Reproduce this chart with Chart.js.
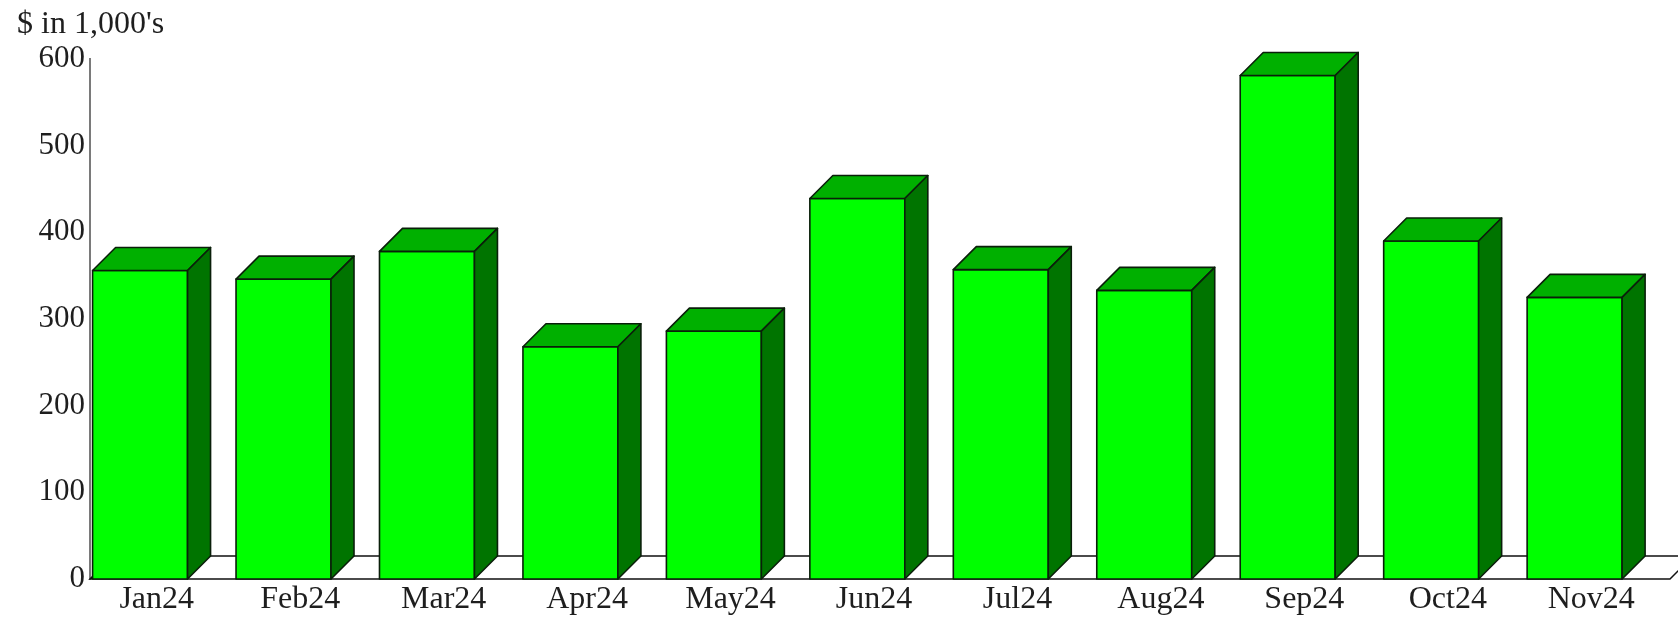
<!DOCTYPE html>
<html>
<head>
<meta charset="utf-8">
<script src="https://cdn.jsdelivr.net/npm/chart.js@4.4.1/dist/chart.umd.min.js"></script>
<style>
  html, body { margin: 0; padding: 0; background: #fff; }
  #wrap { width: 1678px; height: 618px; }
</style>
</head>
<body>
<div id="wrap"><canvas id="salesChart"></canvas></div>
<script>
const months = ["Jan24", "Feb24", "Mar24", "Apr24", "May24", "Jun24", "Jul24", "Aug24", "Sep24", "Oct24", "Nov24"];
const sales = [356, 346, 378, 268, 286, 439, 357, 333, 581, 390, 325];
const yTicks = [0, 100, 200, 300, 400, 500, 600];

const colors = {
  front: "#00ff00",
  top: "#00b000",
  side: "#007400",
  edge: "#0a1f0a",
  axis: "#7a7a7a",
  text: "#1e1e1e"
};

const serif = '"Liberation Serif", "Times New Roman", serif';
const DEPTH = 23;

function poly(ctx, pts, fill) {
  ctx.beginPath();
  ctx.moveTo(pts[0][0], pts[0][1]);
  for (let i = 1; i < pts.length; i++) ctx.lineTo(pts[i][0], pts[i][1]);
  ctx.closePath();
  ctx.fillStyle = fill;
  ctx.fill();
  ctx.stroke();
}

// floor slab behind the bars plus the extruded boxes on top of it
const boxes3d = {
  id: "boxes3d",
  beforeDatasetsDraw(chart) {
    const { ctx, chartArea } = chart;
    const y0 = chart.scales.y.getPixelForValue(0);
    ctx.save();
    ctx.lineWidth = 1.5;
    ctx.strokeStyle = "#111";
    poly(ctx, [
      [chartArea.left, y0],
      [chartArea.right + 2, y0],
      [chartArea.right + 2 + DEPTH, y0 - DEPTH],
      [chartArea.left + DEPTH, y0 - DEPTH]
    ], "#fff");
    ctx.restore();
  },
  afterDatasetsDraw(chart) {
    const { ctx } = chart;
    const meta = chart.getDatasetMeta(0);
    ctx.save();
    ctx.lineWidth = 1.6;
    ctx.lineJoin = "round";
    ctx.strokeStyle = colors.edge;
    meta.data.forEach(bar => {
      const p = bar.getProps(["x", "y", "base", "width"], true);
      const cw = p.width;
      const x1 = p.x - cw / 2 + cw * 0.018;
      const x2 = x1 + cw * 0.662;
      const yt = p.y, yb = p.base;
      // front
      poly(ctx, [[x1, yt], [x2, yt], [x2, yb], [x1, yb]], colors.front);
      // top
      poly(ctx, [[x1, yt], [x1 + DEPTH, yt - DEPTH], [x2 + DEPTH, yt - DEPTH], [x2, yt]], colors.top);
      // right side
      poly(ctx, [[x2, yt], [x2 + DEPTH, yt - DEPTH], [x2 + DEPTH, yb - DEPTH], [x2, yb]], colors.side);
    });
    ctx.restore();
  }
};

new Chart(document.getElementById("salesChart"), {
  type: "bar",
  data: {
    labels: months,
    datasets: [{
      label: "$ in 1,000's",
      data: sales,
      backgroundColor: "rgba(0,0,0,0)",
      borderWidth: 0,
      categoryPercentage: 1,
      barPercentage: 1
    }]
  },
  options: {
    responsive: true,
    maintainAspectRatio: false,
    animation: false,
    layout: { padding: { left: 17, right: 10, top: 0, bottom: 0 } },
    plugins: {
      legend: { display: false },
      title: {
        display: true,
        text: "$ in 1,000's",
        align: "start",
        color: colors.text,
        font: { family: serif, size: 32, weight: "normal", lineHeight: 1.2 },
        padding: { top: 5, bottom: 15.6 }
      },
      tooltip: { callbacks: { label: ctx => ` ${ctx.raw}` } }
    },
    scales: {
      x: {
        grid: { display: false, drawTicks: false },
        border: { display: false },
        ticks: {
          color: colors.text,
          font: { family: serif, size: 32 },
          maxRotation: 0,
          autoSkip: false,
          labelOffset: -5,
          padding: 1
        },
        afterFit: scale => { scale.height = 39; }
      },
      y: {
        min: 0,
        max: 600,
        grid: { display: false, drawTicks: false },
        border: { display: true, color: colors.axis, width: 2 },
        afterBuildTicks: scale => { scale.ticks = yTicks.map(v => ({ value: v })); },
        ticks: {
          color: colors.text,
          font: { family: serif, size: 31 },
          padding: 5
        },
        afterFit: scale => { scale.width = 73; }
      }
    }
  },
  plugins: [boxes3d]
});
</script>
</body>
</html>
